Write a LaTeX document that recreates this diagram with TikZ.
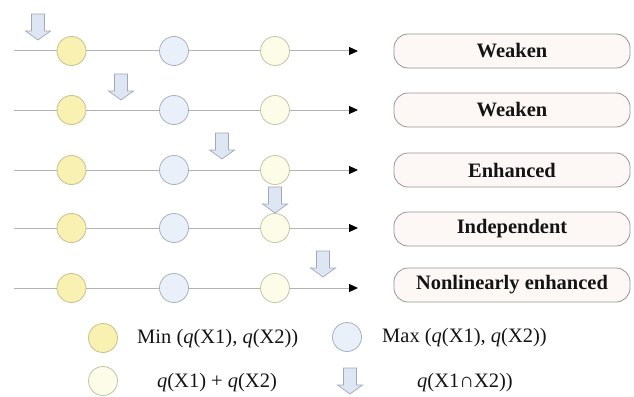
\documentclass[tikz,border=0pt]{standalone}
\usepackage{fontspec}
\setmainfont{Liberation Serif}
\usetikzlibrary{arrows.meta}
\definecolor{lineclr}{RGB}{178,178,178}
\definecolor{minfill}{RGB}{248,241,178}
\definecolor{mindraw}{RGB}{200,192,140}
\definecolor{maxfill}{RGB}{234,240,250}
\definecolor{maxdraw}{RGB}{168,176,192}
\definecolor{sumfill}{RGB}{252,252,232}
\definecolor{sumdraw}{RGB}{196,196,168}
\definecolor{boxfill}{RGB}{253,248,246}
\definecolor{boxdraw}{RGB}{150,150,150}
\definecolor{arrfill}{RGB}{222,230,243}
\definecolor{arrdraw}{RGB}{160,168,186}
\definecolor{txt}{RGB}{20,20,20}
\tikzset{
  dot/.style={circle, minimum size=29pt, inner sep=0pt, line width=0.8pt},
  mindot/.style={dot, fill=minfill, draw=mindraw},
  maxdot/.style={dot, fill=maxfill, draw=maxdraw},
  sumdot/.style={dot, fill=sumfill, draw=sumdraw},
  axis/.style={draw=lineclr, line width=1pt},
  axisend/.style={axis, -{Triangle[length=9pt,width=8pt,color=black]}},
  resultbox/.style={draw=boxdraw, fill=boxfill, rounded corners=14pt,
    minimum width=236pt, minimum height=34pt, line width=0.8pt,
    font=\fontsize{20.5}{23}\selectfont\bfseries, text=txt},
  legtext/.style={font=\fontsize{20.5}{23}\selectfont, text=txt, inner sep=0pt},
  blockarrow/.style={fill=arrfill, draw=arrdraw, line width=0.7pt, line join=miter},
  pics/downarrow/.style={code={
    \path[blockarrow] (-6.5,0) -- (6.5,0) -- (6.5,17) -- (12.5,17) -- (0,26)
      -- (-12.5,17) -- (-6.5,17) -- cycle;
  }}
}
\begin{document}
\begin{tikzpicture}[x=1pt,y=-1pt]
\useasboundingbox (0,0) rectangle (634,396);

% five axes, each with the three reference values
\foreach \i/\yy/\by/\lbl in {1/51/51/Weaken, 2/110/110/Weaken, 3/170/170/Enhanced,
                             4/228/229/Independent, 5/288/285/Nonlinearly enhanced}{
  \coordinate (s\i) at (14,\yy);
  \coordinate (e\i) at (358,\yy);
  \node[mindot] (a\i) at (71.5,\yy) {};
  \node[maxdot] (b\i) at (174,\yy) {};
  \node[sumdot] (c\i) at (275,\yy) {};
  \draw[axis] (s\i) -- (a\i);
  \draw[axis] (a\i) -- (b\i);
  \draw[axis] (b\i) -- (c\i);
  \draw[axisend] (c\i) -- (e\i);
  \node[resultbox] (r\i) at (512,\by) {\lbl};
}

% position of the joint value on each axis
\pic at (38,14) {downarrow};
\pic at (121,74) {downarrow};
\pic at (222,133) {downarrow};
\pic at (275,187) {downarrow};
\pic at (323,251) {downarrow};

% legend
\node[mindot] (lmin) at (103,338) {};
\node[legtext, anchor=west] (tmin) at (137,339) {Min (\textit{q}(X1), \textit{q}(X2))};
\node[maxdot] (lmax) at (347,337) {};
\node[legtext, anchor=west] (tmax) at (382,338) {Max (\textit{q}(X1), \textit{q}(X2))};
\node[sumdot] (lsum) at (103,381) {};
\node[legtext] (tsum) at (217,383) {\textit{q}(X1) + \textit{q}(X2)};
\pic at (350,368) {downarrow};
\node[legtext] (tjoint) at (465,383) {\textit{q}(X1∩X2))};
\end{tikzpicture}
\end{document}
